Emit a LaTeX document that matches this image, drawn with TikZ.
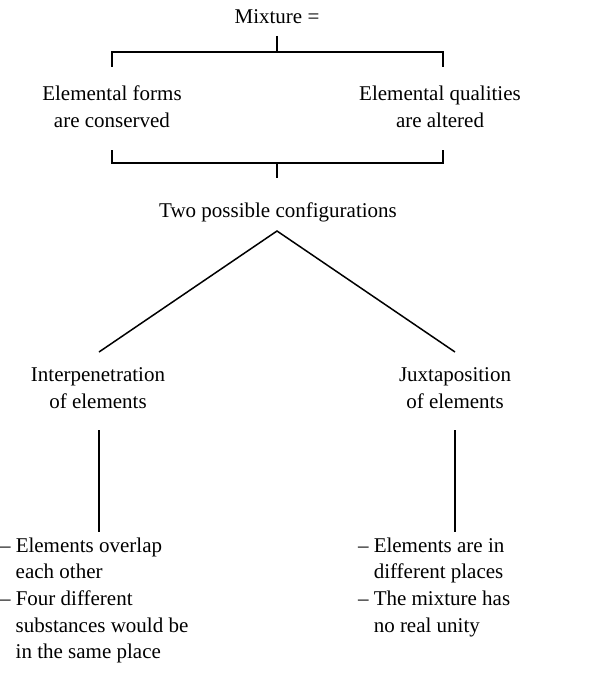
\documentclass[tikz,border=0pt]{standalone}
\usepackage{fontspec}
\setmainfont{Liberation Serif}
\begin{document}
\begin{tikzpicture}[x=1pt,y=-1pt,
  every node/.style={inner sep=0pt, outer sep=0pt, font=\fontsize{21}{26.7}\selectfont},
  lbl/.style={align=center, anchor=base},
  notes/.style={anchor=base west},
  conn/.style={line width=1.5pt}]
\useasboundingbox (0,0) rectangle (600,674);
% texts
\node[lbl] (mix) at (277,24) {Mixture =};
\node[lbl] (forms) at (112,127.5) {Elemental forms\\are conserved};
\node[lbl] (qual) at (440,127.5) {Elemental qualities\\are altered};
\node[lbl] (two) at (278,217) {Two possible configurations};
\node[lbl] (inter) at (98,408.5) {Interpenetration\\of elements};
\node[lbl] (juxt) at (455,408.5) {Juxtaposition\\of elements};
\node[notes] (lnotes) at (0,552) {\begin{tabular}[t]{@{}l@{\ }l@{}}
–&Elements overlap\\
 &each other\\
–&Four different\\
 &substances would be\\
 &in the same place\end{tabular}};
\node[notes] (rnotes) at (358,552) {\begin{tabular}[t]{@{}l@{\ }l@{}}
–&Elements are in\\
 &different places\\
–&The mixture has\\
 &no real unity\end{tabular}};
% coordinates
\coordinate (ts) at (277,36);
\coordinate (tb) at (277,52);
\coordinate (tl) at (112,67);
\coordinate (tr) at (443,67);
\coordinate (bl) at (112,150);
\coordinate (br) at (443,150);
\coordinate (bb) at (277,163);
\coordinate (bs) at (277,178);
\coordinate (apex) at (277,231);
\coordinate (dl) at (99,352);
\coordinate (dr) at (455,352);
\coordinate (vlt) at (99,430);
\coordinate (vlb) at (99,532);
\coordinate (vrt) at (455,430);
\coordinate (vrb) at (455,532);
% connectors
\draw[conn] (ts) -- (tb);
\draw[conn] (tl) |- (tb) -| (tr);
\draw[conn] (bl) |- (bb) -| (br);
\draw[conn] (bb) -- (bs);
\draw[conn] (dl) -- (apex) -- (dr);
\draw[conn] (vlt) -- (vlb);
\draw[conn] (vrt) -- (vrb);
\end{tikzpicture}
\end{document}
